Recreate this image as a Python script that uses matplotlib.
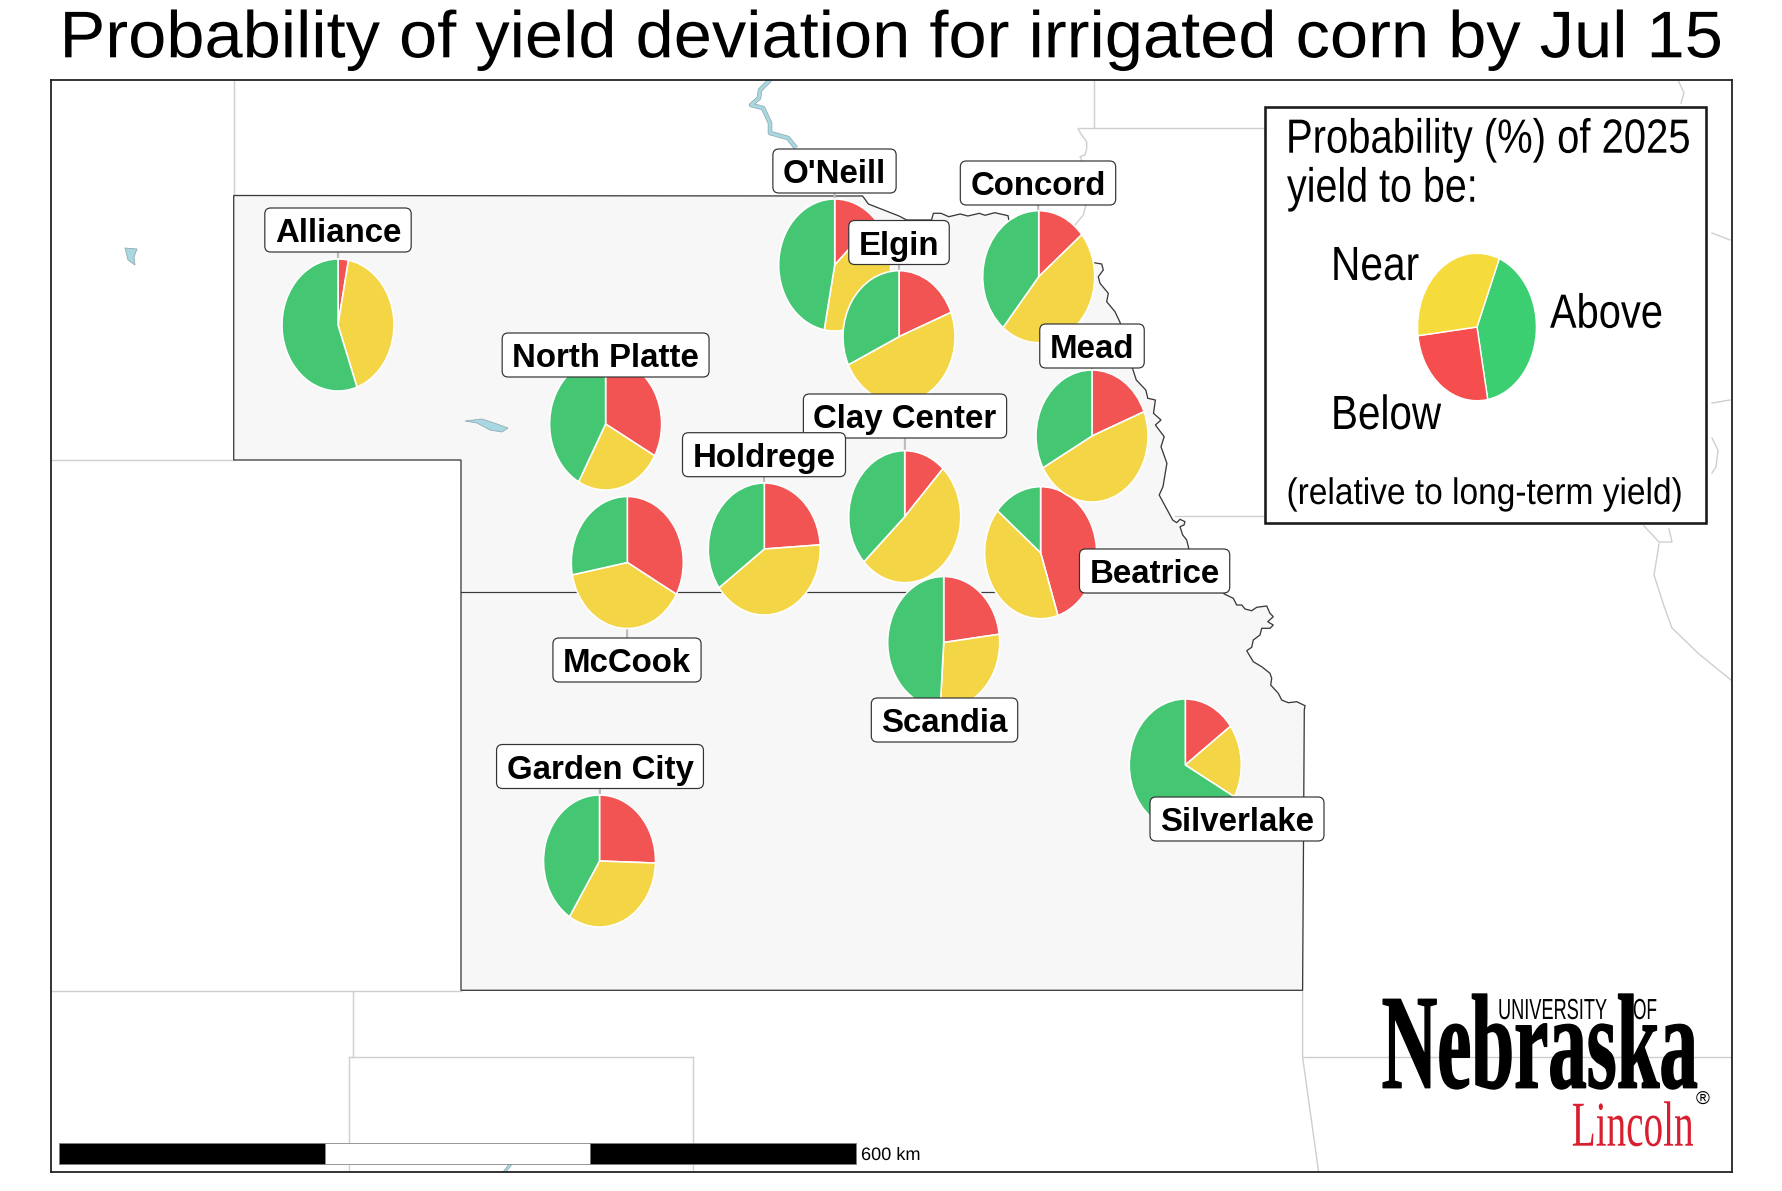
import matplotlib
matplotlib.use("Agg")
import matplotlib.pyplot as plt
from matplotlib.patches import FancyBboxPatch, Polygon, Rectangle
from matplotlib.patheffects import AbstractPathEffect
from matplotlib.transforms import Affine2D

W, H = 1783, 1191
DPI = 100
PX = 72 / DPI

# ---- data ----
sites = ["Alliance", "North Platte", "McCook", "Holdrege", "O'Neill", "Concord", "Elgin",
         "Beatrice", "Mead", "Clay Center", "Scandia", "Silverlake", "Garden City"]
below = [3, 33, 33, 24, 13, 14, 19, 45, 19, 12, 23, 15, 25.5]
near = [41.5, 25, 39, 41, 40, 47, 49, 41, 48, 51, 28, 18, 33.5]
above = [55.5, 42, 28, 35, 47, 39, 32, 14, 33, 37, 49, 67, 41]
legend_values = [26, 33, 41]  # below, near, above
legend_start_near = 22

# map positions (picture coordinates of the map)
site_x = [338, 605.6, 627.3, 764.3, 834.7, 1038.7, 899, 1040.6, 1092, 904.7, 943.7, 1185.3, 599.5]
site_y = [325, 424, 562.5, 549, 265, 276.7, 336.7, 552.7, 436, 516.7, 642.5, 765, 861]
label_x = [338, 605.6, 627, 764, 834.5, 1038, 899, 1154.6, 1092, 905, 944.5, 1237, 600]
label_y = [230, 355, 660, 454.7, 171, 183, 242.5, 571, 346, 416, 720, 819, 766.5]

region_x = [233.7, 862.6, 868.4, 883.7, 899, 906.7, 931.5, 933.4, 941, 948.8, 960.2, 967.9, 979.4, 985,
            994.7, 1008, 1009, 1094, 1101.7, 1103.3, 1098.3, 1100, 1108.3, 1106.7, 1115, 1120, 1132.5,
            1136.3, 1145.8, 1147.8, 1155.4, 1153.5, 1161, 1155.4, 1164.2, 1161, 1166.9, 1163, 1159.2,
            1172.7, 1176.7, 1180, 1185, 1184, 1180, 1182.7, 1186.7, 1189,
            1224.3, 1233.3, 1236.7, 1241.7, 1245, 1251.7, 1256.7, 1266.7, 1270, 1273.3, 1267.7, 1273.3,
            1270, 1261.7, 1260, 1253.3, 1251.7, 1246.7, 1253.3, 1261.7, 1270, 1271.7, 1270.7, 1278.3,
            1281.7, 1288.3, 1296.7, 1305, 1304.3, 1302.6,
            461, 461, 233.7]
region_y = [195.5, 196, 204, 210, 216, 220, 220, 213.3, 213.3, 216.7, 214, 216, 213.3, 215.3,
            212.7, 215.7, 220.7, 262.7, 264, 270, 276.7, 283.3, 293.3, 301.7, 311.7, 322.3, 368.3,
            380, 390, 398.3, 400, 413.3, 420, 425, 436.7, 446.7, 463.3, 486.7, 495,
            520, 522.7, 519.3, 521.7, 525, 526.7, 535, 540, 549.3,
            594, 598.3, 605, 605, 609, 610.7, 607.3, 606, 613.3, 616.7, 621.7, 625,
            628.3, 628.3, 635, 640, 647.3, 650.7, 661.7, 666.7, 673.3, 678.3, 685, 693.3,
            700, 702.7, 701.7, 705.7, 710, 990.3,
            990.3, 460, 460]
divide_x = [461, 1226]
divide_y = [592, 592]

state_lines = [
    ([233.7, 233.7], [80, 195.5]),
    ([51, 233.7], [460, 460]),
    ([51, 461], [990.5, 990.5]),
    ([352.7, 352.7], [990.5, 1057]),
    ([349, 692.6], [1057, 1057]),
    ([349, 349], [1057, 1172]),
    ([692.6, 692.6], [1057, 1172]),
    ([1302.6, 1302.6, 1318.6], [990.3, 1057, 1172]),
    ([1302.6, 1732], [1057, 1057]),
    ([1094.4, 1094.4], [80, 128.3]),
    ([1078, 1270], [128.3, 128.3]),
    ([1078.3, 1081.7, 1086.7, 1086.7, 1085, 1080, 1081.7, 1085.7, 1083.3, 1075],
     [129.3, 135, 141.7, 148.3, 155, 156.7, 160, 206, 215, 225]),
    ([1174.5, 1270], [515.7, 515.7]),
    ([1712, 1730], [233, 240]),
    ([1712, 1730], [403, 400]),
    ([1712, 1718, 1716, 1712], [438, 450, 467, 473]),
    ([1678, 1684, 1681], [80, 93, 103]),
    ([1644, 1659, 1672, 1669], [526, 542, 542, 529]),
    ([1659, 1654, 1664, 1672, 1699, 1731], [544, 575, 606, 628, 654, 680]),
]
water_bodies = [
    ([465, 482, 497, 508, 502, 490, 477], [421, 419, 424, 428, 432, 430, 423]),
    ([125, 137, 134, 135, 128], [248, 249, 257, 265, 260]),
    ([510, 513, 506, 503], [1163, 1163, 1172, 1172]),
]
river_x = [770, 760, 759, 751, 763, 770, 770, 788, 796]
river_y = [80, 90, 98, 105, 108, 123, 133, 138, 148]
scale_edges = [59.3, 325, 590, 856]

COL_BELOW, COL_NEAR, COL_ABOVE = "#F25454", "#F4D546", "#44C672"
LEG_BELOW, LEG_NEAR, LEG_ABOVE = "#F64E4E", "#F5DC3C", "#3BCF72"
LINE = "#CFCFCF"


class Tall(AbstractPathEffect):
    """Stretch a text upward from its baseline (optionally thickening it),
    which gives the condensed look of the source's type."""
    def __init__(self, sy, stroke=0):
        super().__init__()
        self.sy = sy
        self.stroke = stroke

    def draw_path(self, renderer, gc, tpath, affine, rgbFace=None):
        g = renderer.new_gc()
        g.copy_properties(gc)
        if self.stroke:
            g.set_linewidth(self.stroke)
            g.set_foreground(rgbFace)
        renderer.draw_path(g, tpath, Affine2D().scale(1, self.sy) + affine, rgbFace)
        g.restore()


fig = plt.figure(figsize=(W / DPI, H / DPI), dpi=DPI, facecolor="white")
ax = fig.add_axes([51 / W, 1 - 1172 / H, (1732 - 51) / W, (1172 - 80) / H])
ax.set_xlim(51, 1732)
ax.set_ylim(1172, 80)
ax.set_xticks([])
ax.set_yticks([])
for s in ax.spines.values():
    s.set_linewidth(1.8 * PX)
    s.set_color("#222222")
    s.set_zorder(40)
renderer = fig.canvas.get_renderer()


def fit(x, base, s, width, px, family="Liberation Sans", stroke=0, **kw):
    """Text of the given advance width whose glyphs are as tall as a font of px pixels."""
    kw.setdefault("zorder", 30)
    kw.setdefault("color", "black")
    t = ax.text(x, base, s, fontsize=px * PX, family=family, ha="left", va="baseline",
                clip_on=False, **kw)
    ratio = width / t.get_window_extent(renderer).width
    t.set_fontsize(px * PX * ratio)
    t.set_path_effects([Tall(1 / ratio, stroke)])
    return t


# map background
ax.add_patch(Polygon(list(zip(region_x, region_y)), closed=True, facecolor="#F7F7F7",
                     edgecolor="#3A3A3A", linewidth=1.3 * PX, zorder=1.2))
ax.plot(divide_x, divide_y, color="#3A3A3A", lw=1.2 * PX, zorder=1.3)
for lx, ly in state_lines:
    ax.plot(lx, ly, color=LINE, lw=1.4 * PX, zorder=1)
for wx, wy in water_bodies:
    ax.add_patch(Polygon(list(zip(wx, wy)), closed=True, facecolor="#A9D8E2",
                         edgecolor="#8FA9AE", linewidth=0.8 * PX, zorder=1.4))
ax.plot(river_x, river_y, color="#8FA9AE", lw=4.5 * PX, zorder=1.4, solid_capstyle="butt")
ax.plot(river_x, river_y, color="#A9D8E2", lw=3 * PX, zorder=1.41, solid_capstyle="butt")

# connectors
for sx, sy, lx, ly in zip(site_x, site_y, label_x, label_y):
    ax.plot([sx, lx], [sy, ly], color="#BDBDBD", lw=2.2 * PX, zorder=1.6)


def draw_pie(cx, cy, rx, ry, values, colors, z, start=90, sep=1.6):
    to_axes = ax.transData + ax.transAxes.inverted()
    x0, y0 = to_axes.transform((cx - rx, cy + ry))
    x1, y1 = to_axes.transform((cx + rx, cy - ry))
    inset = ax.inset_axes([x0, y0, x1 - x0, y1 - y0], zorder=z)
    inset.pie(values, colors=colors, startangle=start, counterclock=False, radius=1,
              wedgeprops={"edgecolor": "white", "linewidth": sep * PX, "clip_on": False})
    inset.set_aspect("auto")
    inset.set_xlim(-1, 1)
    inset.set_ylim(-1, 1)


for i, (sx, sy) in enumerate(zip(site_x, site_y)):
    draw_pie(sx, sy, 56, 66, [below[i], near[i], above[i]], [COL_BELOW, COL_NEAR, COL_ABOVE], 5 + i * 0.1)

# site labels (Holdrege sits above Clay Center)
order = sorted(range(len(sites)), key=lambda k: sites[k] == "Holdrege")
for n, i in enumerate(order):
    z = 10 + n
    t = ax.text(label_x[i], label_y[i] + 12, sites[i], fontsize=33 * PX, family="Liberation Sans",
                weight="bold", ha="center", va="baseline", color="black", zorder=z + 0.5)
    w = t.get_window_extent(renderer).width + 20
    ax.add_patch(FancyBboxPatch((label_x[i] - w / 2, label_y[i] - 22), w, 44,
                                boxstyle="round,pad=0,rounding_size=6", facecolor="white",
                                edgecolor="#333333", linewidth=1.2 * PX, zorder=z))

# legend box
ax.add_patch(Rectangle((1265, 107), 441, 416, facecolor="white", edgecolor="#1A1A1A",
                       linewidth=2.6 * PX, zorder=25))
fit(1286, 152.7, "Probability (%) of 2025", 405, 48)
fit(1287, 201.7, "yield to be:", 191, 48)
fit(1331, 280, "Near", 88, 48)
fit(1550, 327.7, "Above", 113, 48)
fit(1331, 429, "Below", 110, 48)
fit(1286.5, 504, "(relative to long-term yield)", 396, 37)
draw_pie(1477, 327, 59.4, 73.7, [legend_values[2], legend_values[0], legend_values[1]],
         [LEG_ABOVE, LEG_BELOW, LEG_NEAR], 28, start=90 - legend_start_near, sep=1.4)

# scale bar
for k, c in enumerate(["black", "white", "black"]):
    ax.add_patch(Rectangle((scale_edges[k], 1143), scale_edges[k + 1] - scale_edges[k], 21,
                           facecolor=c, edgecolor="#808080", linewidth=0.8 * PX, zorder=20))
fit(861, 1160, "600 km", 60, 18)

# logo as text
fit(1381.7, 1087.7, "Nebraska", 316, 135, family="Liberation Serif", weight="bold", stroke=1.4 * PX)
fit(1498, 1019, "UNIVERSITY", 109, 29)
fit(1633, 1019, "OF", 24, 29)
fit(1571.7, 1145.7, "Lincoln", 122, 64, family="Liberation Serif", color="#D91F2F")
ax.text(1702.7, 1099, "®", fontsize=19 * PX, family="Liberation Sans", ha="center", va="center", zorder=30)

# title
fit(59.5, 57.3, "Probability of yield deviation for irrigated corn by Jul 15", 1663, 66)

fig.savefig("out.png", dpi=DPI, facecolor="white")
